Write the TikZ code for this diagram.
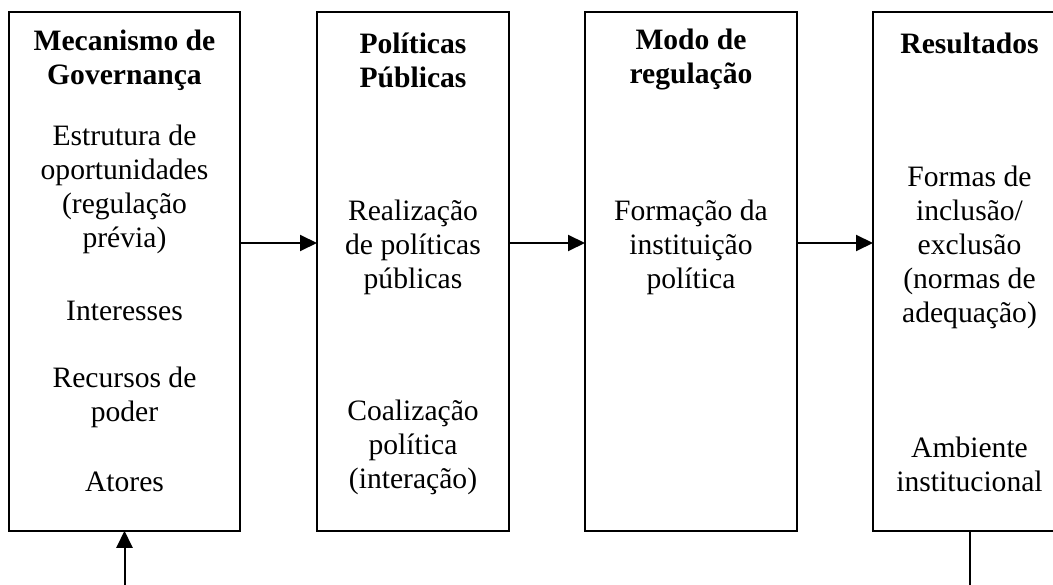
\documentclass[tikz,border=0pt]{standalone}
\usepackage{fontspec}
\setmainfont{Liberation Serif}
\usetikzlibrary{arrows.meta}
\begin{document}
\begin{tikzpicture}[x=1pt,y=-1pt,
  box/.style={draw,line width=2pt,rectangle,inner sep=0,outer sep=0},
  txt/.style={align=center,inner sep=0,font=\fontsize{29.6}{34}\selectfont},
  ttl/.style={txt,font=\fontsize{29.6}{34}\selectfont\bfseries},
  arr/.style={line width=2pt,-{Triangle[length=17pt,width=16pt]}},
  ln/.style={line width=2pt}]
\useasboundingbox (0,0) rectangle (1053,585);
\clip (0,0) rectangle (1053,585);
% boxes
\node[box,minimum width=231pt,minimum height=518.5pt] (b1) at (124.5,271.5) {};
\node[box,minimum width=192pt,minimum height=518.5pt] (b2) at (413,271.5) {};
\node[box,minimum width=212pt,minimum height=518.5pt] (b3) at (691,271.5) {};
\node[box,minimum width=193pt,minimum height=518.5pt] (b4) at (969.5,271.5) {};
% box 1 texts
\node[ttl] (t1) at (124.5,60) {Mecanismo de\\Governança};
\node[txt] (t1a) at (124.5,189) {Estrutura de\\oportunidades\\(regulação\\prévia)};
\node[txt] (t1b) at (124.5,311) {Interesses};
\node[txt] (t1c) at (124.5,397) {Recursos de\\poder};
\node[txt] (t1d) at (124.5,482) {Atores};
% box 2 texts
\node[ttl] (t2) at (413,60) {Políticas\\Públicas};
\node[txt] (t2a) at (413,247) {Realização\\de políticas\\públicas};
\node[txt] (t2b) at (413,447) {Coalização\\política\\(interação)};
% box 3 texts
\node[ttl] (t3) at (691,60) {Modo de\\regulação};
\node[txt] (t3a) at (691,247) {Formação da\\instituição\\política};
% box 4 texts
\node[ttl] (t4) at (969.5,43) {Resultados};
\node[txt] (t4a) at (969.5,247) {Formas de\\inclusão/\\exclusão\\(normas de\\adequação)};
\node[txt] (t4b) at (969.5,464) {Ambiente\\institucional};
% connectors
\coordinate (ay) at (0,243);
\coordinate (in1) at (124.5,590);
\coordinate (out1) at (969.5,590);
\draw[arr] (b1.east |- ay) -- (b2.west |- ay);
\draw[arr] (b2.east |- ay) -- (b3.west |- ay);
\draw[arr] (b3.east |- ay) -- (b4.west |- ay);
\draw[arr] (in1) -- (b1.south);
\draw[ln] (b4.south) -- (out1);
\end{tikzpicture}
\end{document}
